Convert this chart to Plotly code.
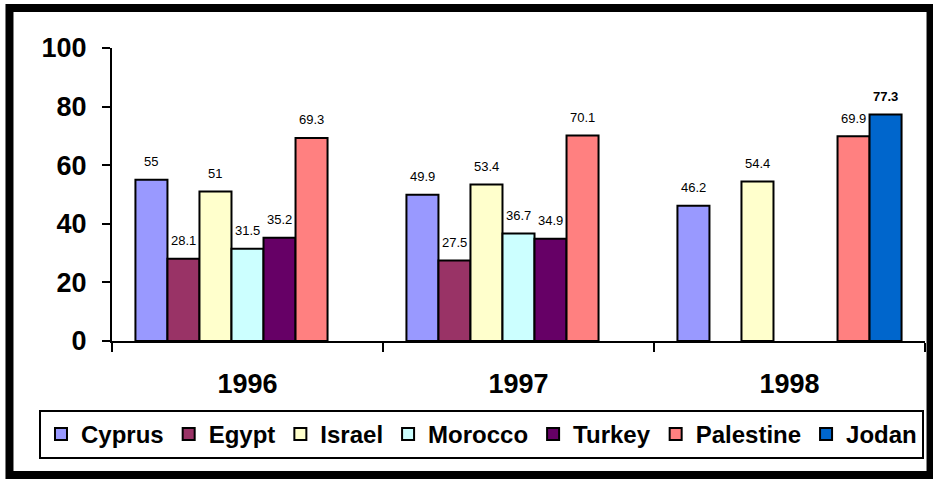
import plotly.graph_objects as go

years = ["1996", "1997", "1998"]
countries = ["Cyprus", "Egypt", "Israel", "Morocco", "Turkey", "Palestine", "Jodan"]
cyprus = [55, 49.9, 46.2]
egypt = [28.1, 27.5, None]
israel = [51, 53.4, 54.4]
morocco = [31.5, 36.7, None]
turkey = [35.2, 34.9, None]
palestine = [69.3, 70.1, 69.9]
jodan = [None, None, 77.3]
series = [cyprus, egypt, israel, morocco, turkey, palestine, jodan]
colors = ["#9999FF", "#993366", "#FFFFCC", "#CCFFFF", "#660066", "#FF8080", "#0066CC"]
bold_labels = [False, False, False, False, False, False, True]

FONT = "Arial, Liberation Sans, sans-serif"
BARGAP = 0.173

fig = go.Figure()
for name, vals, col in zip(countries, series, colors):
    fig.add_trace(go.Bar(
        name=name, x=years, y=vals,
        marker=dict(color=col, line=dict(color="black", width=2)),
    ))

# data labels above bars
n = len(series)
w = (1 - BARGAP) / n
annotations = []
for j, (vals, b) in enumerate(zip(series, bold_labels)):
    for i, v in enumerate(vals):
        if v is None:
            continue
        txt = f"{v:g}"
        if b:
            txt = f"<b>{txt}</b>"
        annotations.append(dict(
            x=i - (1 - BARGAP) / 2 + (j + 0.5) * w, y=v, xref="x", yref="y",
            text=txt, showarrow=False, yshift=18,
            font=dict(family=FONT, size=13, color="black"),
        ))

fig.update_layout(
    width=933, height=479,
    margin=dict(l=112, r=8, t=48, b=138),
    paper_bgcolor="white", plot_bgcolor="white",
    barmode="group", bargap=BARGAP, bargroupgap=0,
    font=dict(family=FONT, color="black"),
    annotations=annotations,
    showlegend=True,
    legend=dict(
        orientation="h", x=-0.0898, xanchor="left", y=-0.2355, yanchor="top",
        bordercolor="black", borderwidth=2, bgcolor="white",
        font=dict(family=FONT, size=24, color="black", weight="bold"),
        traceorder="normal",
    ),
    shapes=[dict(
        type="rect", xref="paper", yref="paper",
        x0=-0.1261, x1=1.0068, y0=-0.4573, y1=1.1365,
        line=dict(color="black", width=8), fillcolor="rgba(0,0,0,0)",
    )],
)
fig.update_xaxes(
    type="category", showline=True, linecolor="black", linewidth=2,
    ticks="outside", tickson="boundaries", ticklen=9, tickwidth=2, tickcolor="black",
    tickfont=dict(family=FONT, size=27, color="black", weight="bold"),
    ticklabelstandoff=18, showgrid=False,
)
fig.update_yaxes(
    range=[0, 100], tickvals=[0, 20, 40, 60, 80, 100],
    showline=True, linecolor="black", linewidth=2,
    ticks="outside", ticklen=8, tickwidth=2, tickcolor="black",
    tickfont=dict(family=FONT, size=27, color="black", weight="bold"),
    ticklabelstandoff=10, showgrid=False, zeroline=False,
)

fig.write_html("out.html", config={"displayModeBar": False},
               post_script="document.body.style.margin='0';")
